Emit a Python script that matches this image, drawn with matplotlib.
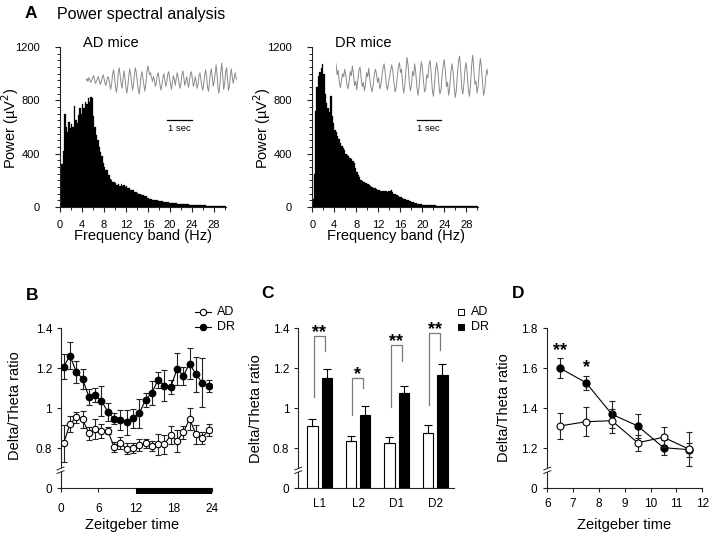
import numpy as np
import matplotlib
matplotlib.use("Agg")
import matplotlib.pyplot as plt
from matplotlib.lines import Line2D
from matplotlib.patches import Rectangle, Polygon
from matplotlib.ticker import MultipleLocator
import matplotlib.transforms as mtransforms

plt.rcParams['font.family'] = ['Liberation Sans', 'DejaVu Sans']

# ---------------- data ----------------
# Panel A: power spectra (0.25 Hz bins, 0-30 Hz), uV^2
ad_power = [250, 320, 420, 700, 600, 560, 640, 590,
            620, 600, 760, 650, 630, 690, 740, 700,
            770, 740, 790, 770, 820, 790, 825, 815,
            680, 600, 540, 500, 450, 410, 380, 330,
            300, 280, 275, 240, 210, 200, 190, 185,
            180, 168, 175, 160, 172, 158, 165, 150,
            160, 145, 140, 130, 125, 130, 115, 110,
            105, 100, 95, 90, 92, 85, 80, 70,
            65, 62, 58, 55, 55, 52, 50, 48,
            45, 44, 42, 40, 38, 36, 35, 33,
            32, 30, 29, 28, 27, 26, 25, 24,
            23, 22, 21, 20, 19, 19, 18, 17,
            17, 16, 15, 15, 14, 14, 13, 13,
            12, 12, 11, 11, 10, 10, 9, 9,
            9, 8, 8, 8, 7, 7, 7, 6,
            6]
dr_power = [60, 250, 720, 900, 980, 1010, 1045, 1070,
            1000, 850, 780, 740, 715, 835, 680, 630,
            580, 565, 530, 510, 480, 455, 440, 425,
            400, 390, 380, 370, 360, 345, 330, 295,
            262, 240, 222, 205, 195, 188, 180, 178,
            172, 165, 158, 150, 145, 140, 135, 130,
            125, 120, 118, 122, 118, 120, 115, 118,
            122, 130, 110, 100, 95, 88, 82, 76,
            72, 67, 63, 58, 54, 50, 46, 42,
            38, 34, 31, 28, 26, 24, 22, 20,
            18, 17, 16, 15, 14, 14, 13, 13,
            12, 12, 11, 11, 10, 10, 9, 9,
            8, 8, 8, 7, 7, 7, 7, 6,
            6, 6, 6, 6, 6, 5, 5, 5,
            5, 5, 5, 5, 5, 5, 5, 5,
            5]
freq_step = 0.25
freq_ticks = [0, 4, 8, 12, 16, 20, 24, 28]
power_ticks = [0, 400, 800, 1200]

# Example EEG traces (arbitrary units)
ad_trace = [0, 2, -1, 3, 1, -2, 0, 3, 5, 1, -3, -1, 2, 4, 0, -4, -2, 3, 6, 2, -3, -5, 0, 4, 2,
            -4, -9, -3, 6, 11, 4, -6, -12, -5, 8, 13, 5, -3, -8, 2, 10, 3, -7, -13, -6, 4, 12, 7,
            -2, -10, -4, 6, 13, 8, -1, -9, -14, -6, 5, 9, 2, -5, -11, -3, 7,
            15, 11, 6, 8, 3, -1, 4, 1, -6, -3, 5, 8, 2, -5, -10, -4, 3, 7, 1, -6,
            -2, 6, 9, 3, -4, -9, -2, 5, 1, -5, 2, 8, 4, -3, -8, -3, 6, 10, 3, -5, -1, 4, -2, -7,
            0, 7, 9, 2, -6, -3, 4, -1, -8, -4, 5, 8, 1, -6, -10, -3,
            6, 11, 4, -7, -11, -2, 8, 12, 3, -6, -1, 7, 16, 6, -8, -13, -4, 10, 18, 5, -9, -4,
            9, 13, 2, -10, -6, 5, 12, 4, -3, 2, 8, 3, 1]
dr_trace = [14, 4, 8, -3, -8, -1, 5, 2, 9, 3, -5, -9, -2, 7, 3, 12, 4, -6, -2, -10, 0, 8, 11, 1,
            -7, -3, -11, -4, 6, 2, 10, -1, -8, -12, -5, 4, 9, 5, -3, 1, -9, -6, 3, 10, 14, 6, -5,
            -10, -4, 2, 8, 13, 7, -4, -12, -8, 2, 11, 15, 6, 9, -6, -13, -5, 9, 20, 12, -3, -11,
            -6, 7, 3, 14, 5, -8, -15, -7, 6, 16, 10, -2, -12, -9, 4, 1, 13, 17, 6, -9, -16, -6,
            8, 15, 9, -4, -14, -10, 3, 12, 18, 8, -7, -3, -15, -8, 6, 14, 7, -6, -17, -11, 4, 16,
            21, 9, -8, -14, -4, 10, 15, 5, -9, -16, -6, 12, 22, 10, -5, -2, -13, -7, 8, 19, 11,
            -4, -15, -10, 2, 9, 4]

# Panel B: 24 h delta/theta ratio
zt_b = [0.5, 1.5, 2.5, 3.5, 4.5, 5.5, 6.5, 7.5, 8.5, 9.5, 10.5, 11.5,
        12.5, 13.5, 14.5, 15.5, 16.5, 17.5, 18.5, 19.5, 20.5, 21.5, 22.5, 23.5]
dr_b = [1.208, 1.263, 1.183, 1.147, 1.058, 1.067, 1.037, 0.983, 0.948, 0.942, 0.930, 0.950,
        0.975, 1.042, 1.078, 1.142, 1.113, 1.105, 1.197, 1.163, 1.223, 1.170, 1.128, 1.113]
dr_b_se = [0.062, 0.067, 0.056, 0.049, 0.039, 0.034, 0.075, 0.046, 0.027, 0.048, 0.062, 0.046,
           0.071, 0.035, 0.060, 0.042, 0.077, 0.035, 0.081, 0.046, 0.078, 0.086, 0.123, 0.031]
ad_b = [0.825, 0.922, 0.955, 0.945, 0.875, 0.897, 0.887, 0.888, 0.808, 0.825, 0.798, 0.800,
        0.817, 0.825, 0.812, 0.820, 0.820, 0.867, 0.837, 0.880, 0.947, 0.870, 0.853, 0.892]
ad_b_se = [0.092, 0.038, 0.029, 0.041, 0.033, 0.048, 0.033, 0.018, 0.025, 0.030, 0.027, 0.025,
           0.031, 0.021, 0.023, 0.053, 0.046, 0.043, 0.055, 0.031, 0.057, 0.046, 0.031, 0.030]
zt_b_ticks = [0, 6, 12, 18, 24]
dark_phase = [12, 24]

# Panel C: phase means
phases = ['L1', 'L2', 'D1', 'D2']
ad_c = [0.912, 0.835, 0.827, 0.878]
ad_c_se = [0.035, 0.028, 0.031, 0.039]
dr_c = [1.153, 0.967, 1.077, 1.167]
dr_c_se = [0.042, 0.046, 0.036, 0.053]
c_sig = ['**', '*', '**', '**']

# Panel D: ZT 6-12
zt_d = [6.5, 7.5, 8.5, 9.5, 10.5, 11.5]
dr_d = [1.600, 1.528, 1.370, 1.312, 1.203, 1.193]
dr_d_se = [0.050, 0.035, 0.068, 0.059, 0.038, 0.035]
ad_d = [1.312, 1.333, 1.338, 1.228, 1.255, 1.195]
ad_d_se = [0.067, 0.072, 0.060, 0.040, 0.050, 0.085]
d_sig = ['**', '*']
d_sig_x = [6.5, 7.5]

ratio_ticks_bc = [0.8, 1.0, 1.2, 1.4]
ratio_ticks_d = [1.2, 1.4, 1.6, 1.8]

# ---------------- layout helpers ----------------
W, H = 712, 535
fig = plt.figure(figsize=(W / 100, H / 100), dpi=100)
INK = '#222222'


def add_ax(x0, x1, ytop, ybot):
    ax = fig.add_axes([x0 / W, 1 - ybot / H, (x1 - x0) / W, (ybot - ytop) / H])
    ax._pxrect = (x0, x1, ytop, ybot)
    for s in ('top', 'right'):
        ax.spines[s].set_visible(False)
    for s in ('left', 'bottom'):
        ax.spines[s].set_linewidth(0.8)
        ax.spines[s].set_color(INK)
    ax.tick_params(colors=INK, width=0.8, direction='out')
    ax.tick_params(labelcolor='black')
    return ax


def ax_coords(ax, px, py):
    x0, x1, ytop, ybot = ax._pxrect
    return (px - x0) / (x1 - x0), (ybot - py) / (ybot - ytop)


def ylabel(ax, s, px, py, size):
    ax.set_ylabel(s, fontsize=size, va='center', ha='center', rotation=90)
    ax.yaxis.set_label_coords(*ax_coords(ax, px, py))


def xlabel(ax, s, px, py, size):
    ax.set_xlabel(s, fontsize=size, va='center', ha='center')
    ax.xaxis.set_label_coords(*ax_coords(ax, px, py))


def ftext(px, py, s, **kw):
    fig.text(px / W, 1 - py / H, s, **kw)


def axis_break(ax, yval):
    xd, yd = ax.transData.transform((ax.get_xlim()[0], yval))
    inv = fig.transFigure.inverted()
    gap = 1.8
    cover = [inv.transform(p) for p in [(xd - 3, yd - gap - 1.2), (xd + 3, yd - gap + 1.2),
                                        (xd + 3, yd + gap + 1.2), (xd - 3, yd + gap - 1.2)]]
    fig.add_artist(Polygon(cover, closed=True, facecolor='white', edgecolor='none',
                           transform=fig.transFigure, zorder=5))
    for dy in (-gap, gap):
        p0 = inv.transform((xd - 3.5, yd + dy - 1.4))
        p1 = inv.transform((xd + 3.5, yd + dy + 1.4))
        fig.add_artist(Line2D([p0[0], p1[0]], [p0[1], p1[1]], color=INK, lw=0.7,
                              transform=fig.transFigure, zorder=6))


# ---------------- Panel A ----------------
ftext(31, 14, 'A', fontsize=12.5, fontweight='bold', ha='center', va='center')
ftext(57, 14, 'Power spectral analysis', fontsize=11.5, ha='left', va='center')

spec_specs = [
    (ad_power, ad_trace, (60, 226.1), 'AD mice', 83, (86, 237, 62, 99), 19, 10, 143),
    (dr_power, dr_trace, (312.3, 478.4), 'DR mice', 335, (336, 488, 53, 105), 24, 262, 396),
]
for power, trace, (x0, x1), title, tx, trect, tlim, ylx, xlx in spec_specs:
    ax = add_ax(x0, x1, 47, 207)
    f = np.arange(len(power)) * freq_step
    ax.bar(f, power, width=freq_step, align='edge', color='black', edgecolor='black', linewidth=0.2)
    ax.set_xlim(0, 30.2)
    ax.set_ylim(0, 1200)
    ax.set_xticks(freq_ticks)
    ax.xaxis.set_minor_locator(MultipleLocator(2))
    ax.set_yticks(power_ticks)
    ax.yaxis.set_minor_locator(MultipleLocator(50))
    ax.tick_params(axis='both', which='major', labelsize=8, length=3.5)
    ax.tick_params(axis='both', which='minor', length=2.5, width=0.6)
    ax.tick_params(axis='y', which='major', pad=11)
    ax.tick_params(axis='x', which='major', pad=5.5)
    ylabel(ax, 'Power (µV$^2$)', ylx, 128, 10.5)
    xlabel(ax, 'Frequency band (Hz)', xlx, 236, 10.5)
    ftext(tx, 43, title, fontsize=10.5, ha='left', va='center')
    # trace inset
    tx0, tx1, tyt, tyb = trect
    tax = fig.add_axes([tx0 / W, 1 - tyb / H, (tx1 - tx0) / W, (tyb - tyt) / H])
    tax.plot(np.arange(len(trace)), trace, color='#8a8a8a', lw=0.7)
    tax.set_xlim(0, len(trace) - 1)
    tax.set_ylim(-tlim, tlim)
    tax.axis('off')

# 1 sec scale bars
for bx0, bx1 in [(167, 192), (416.7, 441)]:
    fig.add_artist(Line2D([bx0 / W, bx1 / W], [1 - 119.5 / H] * 2, color='black', lw=0.9,
                          transform=fig.transFigure))
    ftext((bx0 + bx1) / 2, 128.5, '1 sec', fontsize=6.8, ha='center', va='center')

# ---------------- Panel B ----------------
axB = add_ax(60.5, 211.7, 328.3, 488.3)
axB.errorbar(zt_b, dr_b, yerr=dr_b_se, fmt='-o', color='black', mfc='black', mec='black',
             ms=4.6, lw=0.8, elinewidth=0.8, capsize=2.2, capthick=0.8, ecolor=INK, zorder=3)
axB.errorbar(zt_b, ad_b, yerr=ad_b_se, fmt='-o', color='black', mfc='white', mec='black',
             mew=0.8, ms=4.6, lw=0.8, elinewidth=0.8, capsize=2.2, capthick=0.8, ecolor=INK, zorder=4)
axB.set_xlim(0, 24)
axB.set_ylim(0.6, 1.4)
axB.set_xticks(zt_b_ticks)
axB.set_yticks([0.6] + ratio_ticks_bc)
axB.set_yticklabels(['0', '0.8', '1', '1.2', '1.4'])
axB.tick_params(axis='both', labelsize=8.5, length=3)
axB.tick_params(axis='y', pad=3)
axB.tick_params(axis='x', pad=7.5)
trB = mtransforms.blended_transform_factory(axB.transData, axB.transAxes)
axB.add_patch(Rectangle((dark_phase[0], -0.035), dark_phase[1] - dark_phase[0], 0.038,
                        transform=trB, facecolor='black', edgecolor='none', clip_on=False, zorder=5))
ylabel(axB, 'Delta/Theta ratio', 15, 406, 10.5)
xlabel(axB, 'Zeitgeber time', 132, 525, 10.5)
axis_break(axB, 0.69)
ftext(32, 295, 'B', fontsize=12.5, fontweight='bold', ha='center', va='center')
# legend B
for ly, lab, face in [(311.7, 'AD', 'white'), (326.7, 'DR', 'black')]:
    fig.add_artist(Line2D([195 / W, 203 / W, 211 / W], [1 - ly / H] * 3, color='black', lw=0.8,
                          marker='o', markevery=[1], mfc=face, mec='black', mew=0.8, ms=4.6,
                          transform=fig.transFigure))
    ftext(217, ly, lab, fontsize=9, ha='left', va='center')

# ---------------- Panel C ----------------
axC = add_ax(298.3, 454, 328.3, 488.3)
xc = np.arange(len(phases))
bw = 0.27
off = 0.187
base = 0.6
axC.bar(xc - off, np.array(ad_c) - base, bottom=base, width=bw, color='white', edgecolor='black', lw=0.8, zorder=2)
axC.bar(xc + off, np.array(dr_c) - base, bottom=base, width=bw, color='black', edgecolor='black', lw=0.8, zorder=2)
axC.errorbar(xc - off, ad_c, yerr=[np.zeros(4), ad_c_se], fmt='none', ecolor='black', elinewidth=0.8,
             capsize=3, capthick=0.8, zorder=3)
axC.errorbar(xc + off, dr_c, yerr=[np.zeros(4), dr_c_se], fmt='none', ecolor='black', elinewidth=0.8,
             capsize=3, capthick=0.8, zorder=3)
axC.set_xlim(-0.55, 3.487)
axC.set_ylim(0.6, 1.4)
axC.set_xticks(xc)
axC.set_xticklabels(phases)
axC.set_yticks([0.6] + ratio_ticks_bc)
axC.set_yticklabels(['0', '0.8', '1', '1.2', '1.4'])
axC.tick_params(axis='both', labelsize=8.5, length=3)
axC.tick_params(axis='x', length=0, pad=7)
axC.tick_params(axis='y', pad=3.5)
ylabel(axC, 'Delta/Theta ratio', 256, 409, 10.5)
axis_break(axC, 0.69)
ftext(268, 293, 'C', fontsize=12.5, fontweight='bold', ha='center', va='center')
# significance brackets (annotation heights)
br_top = [1.362, 1.150, 1.317, 1.378]
br_left = [1.058, 0.967, 1.008, 1.017]
br_right = [1.287, 1.100, 1.238, 1.292]
star_y = [1.408, 1.195, 1.362, 1.420]
star_tr = mtransforms.offset_copy(axC.transData, fig=fig, y=-7.4, units='points')
for i in range(len(phases)):
    xl, xr = xc[i] - 0.155, xc[i] + 0.13
    axC.plot([xl, xl, xr, xr], [br_left[i], br_top[i], br_top[i], br_right[i]], color='#7a7a7a',
             lw=0.9, clip_on=False, zorder=1)
    axC.text((xl + xr) / 2, star_y[i], c_sig[i], fontsize=13, fontweight='bold', ha='center',
             va='baseline', transform=star_tr, clip_on=False)
# legend C
for ly, lab, face in [(311.7, 'AD', 'white'), (326.7, 'DR', 'black')]:
    fig.add_artist(Line2D([460.5 / W], [1 - ly / H], marker='s', ms=4.5, mfc=face, mec='black',
                          mew=0.7, lw=0, transform=fig.transFigure))
    ftext(471, ly, lab, fontsize=9, ha='left', va='center')

# ---------------- Panel D ----------------
axD = add_ax(547.3, 702.3, 328.3, 488.3)
axD.errorbar(zt_d, dr_d, yerr=dr_d_se, fmt='-o', color='black', mfc='black', mec='black',
             ms=5, lw=0.8, elinewidth=0.8, capsize=2.5, capthick=0.8, ecolor=INK, zorder=3)
axD.errorbar(zt_d, ad_d, yerr=ad_d_se, fmt='-o', color='black', mfc='white', mec='black',
             mew=0.8, ms=5, lw=0.8, elinewidth=0.8, capsize=2.5, capthick=0.8, ecolor=INK, zorder=4)
axD.set_xlim(6, 12)
axD.set_ylim(1.0, 1.8)
axD.set_xticks(range(6, 13))
axD.set_yticks([1.0] + ratio_ticks_d)
axD.set_yticklabels(['0', '1.2', '1.4', '1.6', '1.8'])
axD.tick_params(axis='both', labelsize=8.5, length=3)
axD.tick_params(axis='y', pad=4)
axD.tick_params(axis='x', pad=4)
ylabel(axD, 'Delta/Theta ratio', 504, 408, 10.5)
xlabel(axD, 'Zeitgeber time', 624, 525, 10.5)
axis_break(axD, 1.09)
ftext(518, 293, 'D', fontsize=12.5, fontweight='bold', ha='center', va='center')
star_y_d = [1.717, 1.633]
star_trD = mtransforms.offset_copy(axD.transData, fig=fig, y=-7.4, units='points')
for sx, sy, s in zip(d_sig_x, star_y_d, d_sig):
    axD.text(sx, sy, s, fontsize=13, fontweight='bold', ha='center', va='baseline',
             transform=star_trD, clip_on=False)

fig.savefig('out.png', dpi=100)
